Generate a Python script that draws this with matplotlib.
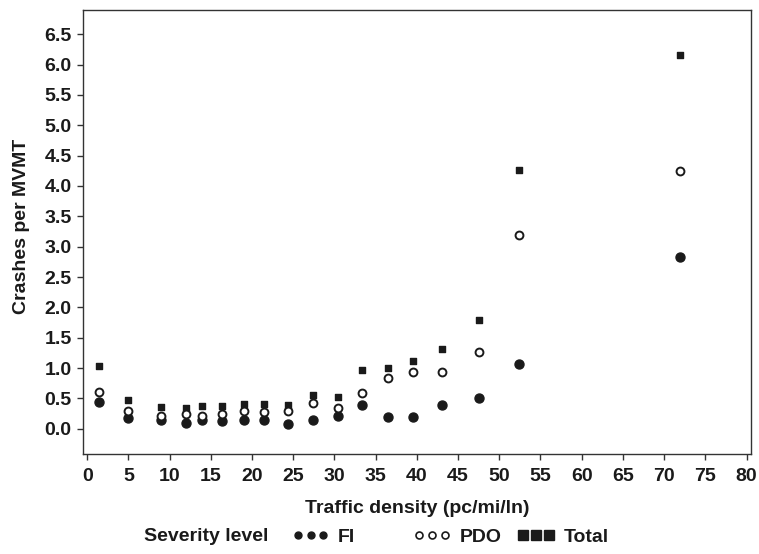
import matplotlib
matplotlib.use("Agg")
import matplotlib.pyplot as plt
from matplotlib.lines import Line2D

plt.rcParams['font.family'] = ['Liberation Sans', 'DejaVu Sans']
plt.rcParams['font.weight'] = 'bold'

# traffic density bins (pc/mi/ln)
density = [1.4, 4.9, 8.9, 12.0, 13.9, 16.4, 19.0, 21.5, 24.4, 27.4,
           30.4, 33.4, 36.5, 39.5, 43.0, 47.5, 52.4, 71.9]
# crashes per MVMT by severity
fi = [0.44, 0.17, 0.15, 0.10, 0.15, 0.13, 0.14, 0.15, 0.08, 0.14,
      0.21, 0.39, 0.19, 0.19, 0.40, 0.51, 1.07, 2.83]
pdo = [0.60, 0.30, 0.21, 0.25, 0.21, 0.24, 0.29, 0.27, 0.30, 0.42,
       0.34, 0.59, 0.83, 0.93, 0.93, 1.27, 3.20, 4.24]
total = [1.04, 0.48, 0.36, 0.35, 0.37, 0.38, 0.41, 0.41, 0.39, 0.56,
         0.53, 0.97, 1.00, 1.12, 1.32, 1.79, 4.27, 6.15]

xticks = list(range(0, 81, 5))
yticks = [i * 0.5 for i in range(14)]

ink = '#1a1a1a'
fs = 14

fig = plt.figure(figsize=(7.59, 5.54), dpi=100)
ax = fig.add_axes([0.1094, 0.18, 0.8796, 0.802])

ax.scatter(density, total, s=24, marker='s', color=ink, zorder=2)
ax.scatter(density, fi, s=42, marker='o', color=ink, zorder=3)
ax.scatter(density, pdo, s=32, marker='o', facecolor='white',
           edgecolor=ink, linewidths=1.4, zorder=4)

ax.set_xlim(-0.5, 80.5)
ax.set_ylim(-0.42, 6.9)
ax.set_xticks(xticks)
ax.set_xticklabels([str(t) for t in xticks])
ax.set_yticks(yticks)
ax.set_yticklabels(['%.1f' % t for t in yticks])
ax.tick_params(direction='out', length=4.2, width=1, colors='#333333',
               labelsize=fs, labelcolor=ink)
ax.tick_params(axis='x', pad=6)
ax.tick_params(axis='y', pad=4)
for sp in ax.spines.values():
    sp.set_color('#333333')
    sp.set_linewidth(1)

ax.set_xlabel('Traffic density (pc/mi/ln)', fontsize=fs, fontweight='bold',
              color=ink, va='center')
ax.xaxis.set_label_coords(0.5, -0.123)
ax.set_ylabel('Crashes per MVMT', fontsize=fs, fontweight='bold',
              color=ink, va='center')
ax.yaxis.set_label_coords(-0.092, 0.512)

# legend row under the x label
fig.text(0.19, 0.031, 'Severity level', fontsize=fs, fontweight='bold',
         color=ink, ha='left', va='center')
entries = [
    (Line2D([], [], ls='none', marker='o', ms=5, color=ink), 'FI', 0.385),
    (Line2D([], [], ls='none', marker='o', ms=5, mfc='white', mec=ink,
            mew=1.2), 'PDO', 0.545),
    (Line2D([], [], ls='none', marker='s', ms=6.5, color=ink), 'Total', 0.682),
]
for handle, label, xpos in entries:
    leg = fig.legend([handle], [label], loc='center left',
                     bbox_to_anchor=(xpos, 0.031), frameon=False,
                     numpoints=3, handlelength=1.9, handletextpad=0.45,
                     borderpad=0, borderaxespad=0,
                     prop={'size': fs, 'weight': 'bold'})
    for t in leg.get_texts():
        t.set_color(ink)

fig.savefig('out.png', dpi=100)
